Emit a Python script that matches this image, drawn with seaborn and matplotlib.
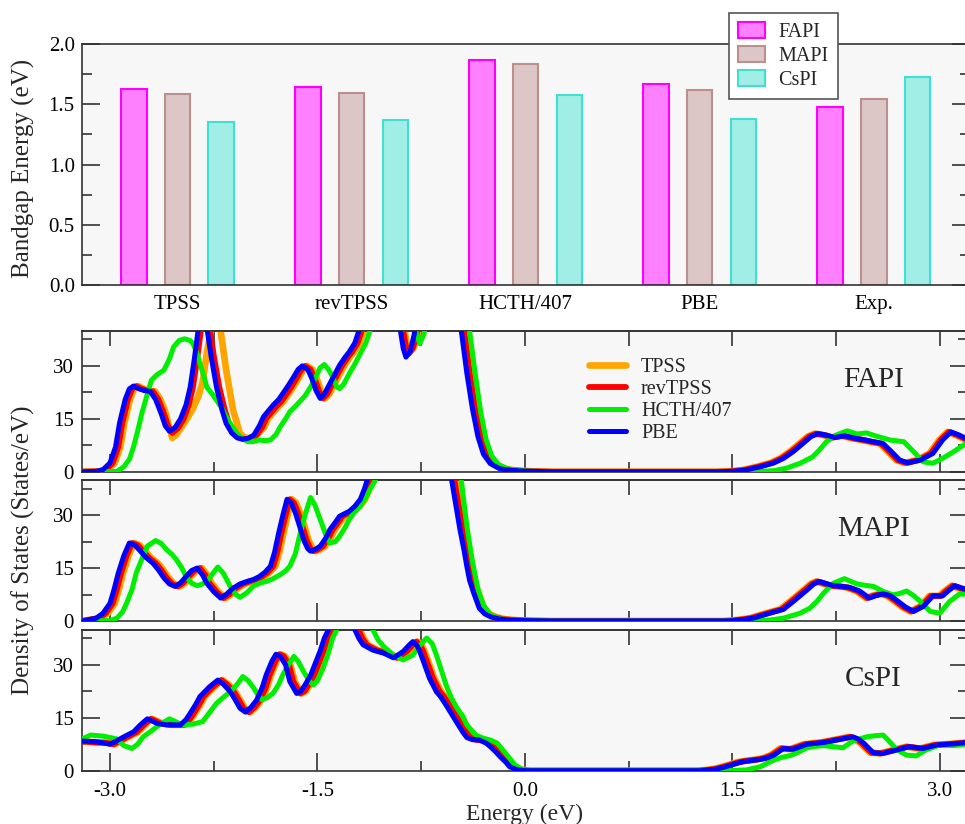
import matplotlib
matplotlib.use("Agg")
import matplotlib.pyplot as plt
import seaborn as sns
import pandas as pd
from matplotlib.ticker import MultipleLocator, FormatStrFormatter
from matplotlib.patches import Patch
from matplotlib.lines import Line2D

# bandgap bars
methods = ["TPSS", "revTPSS", "HCTH/407", "PBE", "Exp."]
materials = ["FAPI", "MAPI", "CsPI"]
gap_fapi = [1.63, 1.64, 1.865, 1.665, 1.475]
gap_mapi = [1.585, 1.596, 1.83, 1.62, 1.546]
gap_cspi = [1.355, 1.367, 1.58, 1.38, 1.726]

# DOS curves, (energy eV, states/eV)
fapi_tpss = [(-3.20, 0), (-3.065, 0.1), (-3.015, 0.6), (-2.965, 2.5), (-2.925, 7), (-2.895, 14), (-2.855, 20.5),
             (-2.825, 23.5), (-2.795, 24.3), (-2.755, 23.5), (-2.715, 23.0), (-2.675, 22.8), (-2.635, 20.5),
             (-2.60, 17), (-2.57, 12.5), (-2.55, 9.6), (-2.52, 10.5), (-2.48, 12.8), (-2.44, 15.2), (-2.40, 18),
             (-2.36, 21.5), (-2.33, 25.5), (-2.30, 33.5), (-2.27, 40), (-2.23, 46), (-2.20, 40), (-2.16, 28.8),
             (-2.11, 17.5), (-2.06, 10.8), (-2.02, 9.6), (-1.98, 9.6), (-1.94, 10.4), (-1.885, 12.6), (-1.855, 15.2),
             (-1.815, 17), (-1.785, 18.4), (-1.745, 20), (-1.715, 21.7), (-1.675, 24), (-1.635, 26.6), (-1.605, 28.7),
             (-1.575, 30), (-1.535, 29), (-1.505, 26.4), (-1.475, 23), (-1.445, 20.8), (-1.415, 22), (-1.375, 25),
             (-1.335, 28), (-1.305, 30.2), (-1.265, 32.5), (-1.235, 34), (-1.195, 36.5), (-1.165, 40), (-1.125, 46),
             (-1.015, 50), (-0.915, 48), (-0.87, 40), (-0.85, 35.5), (-0.83, 34), (-0.80, 35.5), (-0.77, 40),
             (-0.745, 44), (-0.665, 50), (-0.515, 50), (-0.445, 44), (-0.425, 40), (-0.385, 28), (-0.345, 18),
             (-0.305, 10), (-0.265, 5), (-0.215, 2.3), (-0.145, 0.8), (-0.065, 0.4), (0.035, 0.15), (0.20, 0),
             (1.375, 0), (1.475, 0.1), (1.575, 0.5), (1.675, 1.4), (1.775, 2.5), (1.845, 3.8), (1.915, 5.7),
             (1.985, 8), (2.045, 10), (2.095, 10.8), (2.155, 10.4), (2.215, 9.7), (2.285, 10.2), (2.375, 9.4),
             (2.435, 9), (2.495, 8.5), (2.565, 8), (2.625, 5.7), (2.685, 3.3), (2.745, 2.5), (2.835, 3.3),
             (2.925, 5.2), (2.995, 9), (3.055, 11.3), (3.115, 10.4), (3.20, 8.8)]
fapi_revtpss = [(-3.20, 0), (-3.08, 0.1), (-3.03, 0.6), (-2.98, 2.5), (-2.94, 7), (-2.91, 14), (-2.87, 20.5),
                (-2.84, 23.5), (-2.81, 24.3), (-2.77, 23.5), (-2.73, 23.0), (-2.69, 22.8), (-2.65, 20.5), (-2.61, 16.5),
                (-2.58, 13), (-2.55, 11), (-2.51, 12.3), (-2.47, 14.8), (-2.43, 19), (-2.40, 24), (-2.37, 32),
                (-2.34, 41), (-2.31, 46), (-2.28, 41), (-2.25, 33), (-2.21, 24), (-2.17, 17.5), (-2.14, 13.7),
                (-2.10, 11), (-2.06, 9.6), (-2.02, 9.2), (-1.98, 9.5), (-1.94, 10.4), (-1.90, 12.6), (-1.87, 15.2),
                (-1.83, 17), (-1.80, 18.4), (-1.76, 20), (-1.73, 21.7), (-1.69, 24), (-1.65, 26.6), (-1.62, 28.7),
                (-1.59, 30), (-1.55, 29), (-1.52, 26.4), (-1.49, 23), (-1.46, 20.8), (-1.43, 22), (-1.39, 25),
                (-1.35, 28), (-1.32, 30.2), (-1.28, 32.5), (-1.25, 34), (-1.21, 36.5), (-1.18, 40), (-1.14, 46),
                (-1.03, 50), (-0.93, 48), (-0.88, 40), (-0.86, 35.5), (-0.84, 33.5), (-0.81, 35), (-0.78, 39.5),
                (-0.76, 44), (-0.68, 50), (-0.53, 50), (-0.46, 44), (-0.44, 40), (-0.40, 28), (-0.36, 18),
                (-0.32, 10), (-0.28, 5), (-0.23, 2.3), (-0.16, 0.8), (-0.08, 0.4), (0.02, 0.15), (0.20, 0),
                (1.385, 0), (1.485, 0.1), (1.585, 0.5), (1.685, 1.4), (1.785, 2.5), (1.855, 3.8), (1.925, 5.7),
                (1.995, 8), (2.055, 10), (2.105, 10.8), (2.165, 10.4), (2.225, 9.7), (2.295, 10.2), (2.385, 9.4),
                (2.445, 9), (2.505, 8.5), (2.575, 8), (2.635, 5.7), (2.695, 3.3), (2.755, 2.5), (2.845, 3.3),
                (2.935, 5.2), (3.005, 9), (3.065, 11.3), (3.125, 10.4), (3.20, 9)]
fapi_hcth = [(-3.20, 0), (-2.95, 0.1), (-2.90, 1.4), (-2.86, 3.5), (-2.83, 7), (-2.80, 11.5), (-2.77, 16.5),
             (-2.73, 22), (-2.70, 26), (-2.66, 27.5), (-2.61, 28.8), (-2.57, 32), (-2.54, 35.4), (-2.50, 37.2),
             (-2.46, 37.7), (-2.42, 37.2), (-2.40, 36.3), (-2.37, 33.5), (-2.35, 30.7), (-2.32, 27), (-2.30, 24),
             (-2.26, 22), (-2.23, 20.3), (-2.19, 18), (-2.16, 15.6), (-2.12, 13), (-2.08, 10.8), (-2.04, 9.3),
             (-2.00, 8.5), (-1.96, 8.6), (-1.92, 9), (-1.88, 8.8), (-1.84, 9), (-1.80, 10.5), (-1.77, 12.7),
             (-1.73, 15), (-1.70, 17), (-1.66, 18.5), (-1.63, 19.8), (-1.59, 21.5), (-1.55, 24), (-1.51, 27),
             (-1.48, 29.5), (-1.45, 30.4), (-1.42, 29), (-1.39, 26.9), (-1.36, 24), (-1.34, 23.6), (-1.31, 24.8),
             (-1.27, 27.8), (-1.23, 30.5), (-1.19, 33.5), (-1.15, 36.5), (-1.12, 40), (-1.08, 46), (-0.95, 50),
             (-0.82, 45), (-0.79, 40), (-0.76, 36.3), (-0.73, 39), (-0.70, 45), (-0.55, 50), (-0.44, 46),
             (-0.40, 40), (-0.36, 28), (-0.32, 17), (-0.28, 9), (-0.24, 4.5), (-0.19, 2), (-0.12, 0.8),
             (0.00, 0.2), (0.20, 0), (1.60, 0), (1.68, 0.05), (1.80, 0.3), (1.89, 1), (1.99, 2.4), (2.08, 4.2),
             (2.13, 6.2), (2.18, 8.5), (2.25, 10.4), (2.33, 11.6), (2.40, 10.7), (2.47, 11), (2.54, 10.1),
             (2.64, 9), (2.74, 8.5), (2.81, 5.7), (2.88, 2.8), (2.95, 2.4), (3.02, 3.8), (3.10, 5.7), (3.20, 8.3)]
fapi_pbe = [(-3.20, 0), (-3.10, 0.1), (-3.05, 0.6), (-3.00, 2.5), (-2.96, 7), (-2.93, 14), (-2.89, 20.5),
            (-2.86, 23.5), (-2.83, 24.3), (-2.79, 23.5), (-2.75, 23.0), (-2.71, 22.8), (-2.67, 20.5), (-2.63, 16.5),
            (-2.60, 13), (-2.57, 11.5), (-2.53, 12.5), (-2.49, 15), (-2.45, 19), (-2.42, 24), (-2.39, 32),
            (-2.36, 41), (-2.33, 46), (-2.30, 41), (-2.27, 33), (-2.23, 24), (-2.19, 17.5), (-2.16, 13.7),
            (-2.12, 11), (-2.08, 9.6), (-2.04, 9.2), (-2.00, 9.5), (-1.96, 10.4), (-1.92, 13), (-1.89, 15.6),
            (-1.85, 17.5), (-1.82, 18.9), (-1.78, 20.5), (-1.75, 22.2), (-1.71, 24.5), (-1.67, 27), (-1.64, 29),
            (-1.61, 30), (-1.57, 29), (-1.54, 26.4), (-1.51, 23), (-1.48, 20.8), (-1.45, 22), (-1.41, 25),
            (-1.37, 28), (-1.34, 30.2), (-1.30, 32.5), (-1.27, 34), (-1.23, 36.5), (-1.20, 40), (-1.16, 46),
            (-1.05, 50), (-0.95, 48), (-0.90, 40), (-0.88, 35), (-0.86, 32.5), (-0.83, 34), (-0.80, 39),
            (-0.78, 44), (-0.70, 50), (-0.55, 50), (-0.48, 44), (-0.46, 40), (-0.42, 28), (-0.38, 18),
            (-0.34, 10), (-0.30, 5), (-0.25, 2.3), (-0.18, 0.8), (-0.10, 0.4), (0.00, 0.15), (0.20, 0),
            (1.40, 0), (1.50, 0.1), (1.60, 0.5), (1.70, 1.4), (1.80, 2.5), (1.87, 3.8), (1.94, 5.7), (2.01, 8),
            (2.07, 10), (2.12, 10.8), (2.18, 10.4), (2.24, 9.7), (2.31, 10.2), (2.40, 9.4), (2.46, 9),
            (2.52, 8.5), (2.59, 8), (2.65, 5.7), (2.71, 3.3), (2.77, 2.5), (2.86, 3.3), (2.95, 5.2), (3.02, 9),
            (3.08, 11.3), (3.14, 10.4), (3.20, 9.2)]

mapi_tpss = [(-3.20, 0), (-3.065, 0.8), (-3.015, 2.2), (-2.965, 5), (-2.935, 9), (-2.905, 13.6), (-2.865, 18.5),
             (-2.825, 22.1), (-2.785, 21.5), (-2.745, 19.8), (-2.705, 18), (-2.655, 16.4), (-2.615, 14.5),
             (-2.575, 12.2), (-2.535, 10.5), (-2.495, 9.8), (-2.455, 10.8), (-2.415, 12.6), (-2.375, 14.3),
             (-2.335, 15), (-2.295, 13), (-2.265, 10.7), (-2.215, 8.3), (-2.165, 6.5), (-2.125, 7.5), (-2.075, 9.3),
             (-2.025, 10.5), (-1.975, 11.2), (-1.925, 11.8), (-1.885, 12.6), (-1.845, 13.8), (-1.805, 15.5),
             (-1.775, 19.5), (-1.745, 25), (-1.715, 30), (-1.685, 34.5), (-1.655, 33.5), (-1.625, 30.7),
             (-1.595, 27), (-1.565, 23), (-1.535, 20.5), (-1.515, 19.8), (-1.485, 20.2), (-1.445, 21.2),
             (-1.405, 23.5), (-1.375, 25.9), (-1.335, 28), (-1.305, 29.7), (-1.265, 30.5), (-1.235, 31.1),
             (-1.195, 32.5), (-1.155, 34.5), (-1.125, 37.5), (-1.105, 40), (-1.065, 46), (-0.865, 50),
             (-0.565, 50), (-0.515, 44), (-0.495, 40), (-0.465, 33), (-0.435, 26), (-0.405, 20), (-0.385, 15.5),
             (-0.365, 11.5), (-0.335, 7.9), (-0.295, 3.6), (-0.255, 2), (-0.215, 1.2), (-0.145, 0.5),
             (-0.065, 0.25), (0.035, 0.1), (0.20, 0), (1.425, 0), (1.485, 0.1), (1.555, 0.4), (1.625, 0.8),
             (1.745, 2.2), (1.845, 3.3), (1.915, 5.5), (2.015, 8.8), (2.065, 10.5), (2.105, 11.2), (2.155, 10.6),
             (2.205, 10), (2.265, 9.8), (2.325, 9.5), (2.395, 8.5), (2.465, 6.5), (2.515, 7.2), (2.565, 7.7),
             (2.615, 7.2), (2.665, 5.8), (2.725, 4), (2.785, 2.7), (2.855, 4.1), (2.925, 7.1), (2.995, 7.1),
             (3.035, 8.5), (3.085, 10), (3.20, 8.4)]
mapi_revtpss = [(-3.20, 0), (-3.08, 0.8), (-3.03, 2.2), (-2.98, 5), (-2.95, 9), (-2.92, 13.6), (-2.88, 18.5),
                (-2.84, 22.1), (-2.80, 21.5), (-2.76, 19.8), (-2.72, 18), (-2.67, 16.4), (-2.63, 14.5), (-2.59, 12.2),
                (-2.55, 10.5), (-2.51, 9.8), (-2.47, 10.8), (-2.43, 12.6), (-2.39, 14.3), (-2.35, 15), (-2.31, 13),
                (-2.28, 10.7), (-2.23, 8.3), (-2.18, 6.5), (-2.14, 7.5), (-2.09, 9.3), (-2.04, 10.5), (-1.99, 11.2),
                (-1.94, 11.8), (-1.90, 12.6), (-1.86, 13.8), (-1.82, 15.5), (-1.79, 19.5), (-1.76, 25), (-1.73, 30),
                (-1.70, 34.5), (-1.67, 33.5), (-1.64, 30.7), (-1.61, 27), (-1.58, 23), (-1.55, 20.5), (-1.53, 19.8),
                (-1.50, 20.2), (-1.46, 21.2), (-1.42, 23.5), (-1.39, 25.9), (-1.35, 28), (-1.32, 29.7),
                (-1.28, 30.5), (-1.25, 31.1), (-1.21, 32.5), (-1.17, 34.5), (-1.14, 37.5), (-1.12, 40),
                (-1.08, 46), (-0.88, 50), (-0.58, 50), (-0.53, 44), (-0.51, 40), (-0.48, 33), (-0.45, 26),
                (-0.42, 20), (-0.40, 15.5), (-0.38, 11.5), (-0.35, 7.9), (-0.31, 3.6), (-0.27, 2), (-0.23, 1.2),
                (-0.16, 0.5), (-0.08, 0.25), (0.02, 0.1), (0.20, 0), (1.435, 0), (1.495, 0.1), (1.565, 0.4),
                (1.635, 0.8), (1.755, 2.2), (1.855, 3.3), (1.925, 5.5), (2.025, 8.8), (2.075, 10.5), (2.115, 11.2),
                (2.165, 10.6), (2.215, 10), (2.275, 9.8), (2.335, 9.5), (2.405, 8.5), (2.475, 6.5), (2.525, 7.2),
                (2.575, 7.7), (2.625, 7.2), (2.675, 5.8), (2.735, 4), (2.795, 2.7), (2.865, 4.1), (2.935, 7.1),
                (3.005, 7.1), (3.045, 8.5), (3.095, 10), (3.20, 8.6)]
mapi_hcth = [(-3.20, 0), (-3.00, 0.1), (-2.95, 0.8), (-2.91, 2.5), (-2.88, 5), (-2.84, 9), (-2.81, 13.6),
             (-2.77, 17.5), (-2.73, 21.2), (-2.67, 22.8), (-2.63, 22), (-2.59, 20.2), (-2.55, 18.8), (-2.52, 17.4),
             (-2.48, 15), (-2.45, 12.6), (-2.41, 10.7), (-2.37, 10), (-2.33, 10.5), (-2.29, 11.7), (-2.25, 13.8),
             (-2.22, 15.3), (-2.18, 13.5), (-2.13, 9.8), (-2.09, 7.5), (-2.06, 6.7), (-2.01, 8), (-1.96, 10),
             (-1.91, 10.8), (-1.87, 11.2), (-1.82, 12), (-1.77, 13.1), (-1.73, 14.2), (-1.70, 15.5), (-1.66, 19),
             (-1.63, 24), (-1.59, 30), (-1.55, 35), (-1.52, 33), (-1.48, 28.8), (-1.44, 24.5), (-1.41, 22.1),
             (-1.37, 22.5), (-1.34, 24), (-1.30, 26.5), (-1.27, 28.8), (-1.23, 31), (-1.19, 32.6), (-1.15, 35),
             (-1.12, 37.3), (-1.08, 40), (-1.04, 46), (-0.90, 50), (-0.55, 50), (-0.48, 44), (-0.46, 40),
             (-0.42, 27), (-0.38, 17), (-0.34, 9), (-0.30, 4.5), (-0.25, 1.8), (-0.18, 0.6), (-0.10, 0.25),
             (0.00, 0.1), (0.20, 0), (1.60, 0), (1.67, 0.05), (1.78, 0.3), (1.87, 0.8), (1.99, 2.2), (2.06, 3.6),
             (2.11, 5.5), (2.16, 7.9), (2.23, 10.7), (2.31, 12), (2.40, 10.5), (2.46, 10.1), (2.52, 9.8),
             (2.59, 8.4), (2.66, 7.4), (2.71, 7.8), (2.76, 8.5), (2.81, 7.2), (2.86, 5.5), (2.93, 2.7), (3.00, 2.2),
             (3.07, 5.5), (3.14, 7.6), (3.20, 7.6)]
mapi_pbe = [(-3.20, 0), (-3.10, 0.8), (-3.05, 2.2), (-3.00, 5), (-2.97, 9), (-2.94, 13.6), (-2.90, 18.5),
            (-2.86, 22.1), (-2.82, 21.5), (-2.78, 19.8), (-2.74, 18), (-2.69, 16.4), (-2.65, 14.5), (-2.61, 12.2),
            (-2.57, 10.5), (-2.53, 9.8), (-2.49, 10.8), (-2.45, 12.6), (-2.41, 14.3), (-2.37, 15), (-2.33, 13),
            (-2.30, 10.7), (-2.25, 8.3), (-2.20, 6.5), (-2.16, 7.5), (-2.11, 9.3), (-2.06, 10.5), (-2.01, 11.2),
            (-1.96, 11.8), (-1.92, 12.6), (-1.88, 13.8), (-1.84, 15.5), (-1.81, 19.5), (-1.78, 25), (-1.75, 30),
            (-1.72, 34.5), (-1.69, 33.5), (-1.66, 30.7), (-1.63, 27), (-1.60, 23), (-1.57, 20.5), (-1.55, 19.8),
            (-1.52, 20.2), (-1.48, 21.2), (-1.44, 23.5), (-1.41, 25.9), (-1.37, 28), (-1.34, 29.7), (-1.30, 30.5),
            (-1.27, 31.1), (-1.23, 32.5), (-1.19, 34.5), (-1.16, 37.5), (-1.14, 40), (-1.10, 46), (-0.90, 50),
            (-0.60, 50), (-0.55, 44), (-0.53, 40), (-0.50, 33), (-0.47, 26), (-0.44, 20), (-0.42, 15.5),
            (-0.40, 11.5), (-0.37, 7.9), (-0.33, 3.6), (-0.29, 2), (-0.25, 1.2), (-0.18, 0.5), (-0.10, 0.25),
            (0.00, 0.1), (0.20, 0), (1.45, 0), (1.51, 0.1), (1.58, 0.4), (1.65, 0.8), (1.77, 2.2), (1.87, 3.3),
            (1.94, 5.5), (2.04, 8.8), (2.09, 10.5), (2.13, 11.2), (2.18, 10.6), (2.23, 10), (2.29, 9.8),
            (2.35, 9.5), (2.42, 8.5), (2.49, 6.5), (2.54, 7.2), (2.59, 7.7), (2.64, 7.2), (2.69, 5.8), (2.75, 4),
            (2.81, 2.7), (2.88, 4.1), (2.95, 7.1), (3.02, 7.1), (3.06, 8.5), (3.11, 10), (3.20, 8.8)]

cspi_tpss = [(-3.20, 8.3), (-3.09, 8.0), (-3.015, 7.9), (-2.965, 7.5), (-2.915, 8.5), (-2.865, 9.6), (-2.795, 11),
             (-2.745, 13), (-2.695, 14.7), (-2.655, 14), (-2.625, 13.4), (-2.555, 13), (-2.455, 13), (-2.415, 14.5),
             (-2.385, 16.3), (-2.345, 18.8), (-2.315, 21), (-2.245, 23.8), (-2.185, 25.7), (-2.145, 24.5),
             (-2.095, 22.4), (-2.055, 19.8), (-2.025, 17.7), (-1.985, 16.6), (-1.945, 18), (-1.905, 20),
             (-1.865, 23.5), (-1.835, 27.2), (-1.795, 31), (-1.765, 33), (-1.735, 32.5), (-1.695, 30),
             (-1.665, 25.3), (-1.615, 21.9), (-1.585, 22.5), (-1.555, 24.3), (-1.515, 27), (-1.485, 30),
             (-1.445, 34), (-1.415, 37.6), (-1.385, 40), (-1.345, 46), (-1.265, 48), (-1.215, 44), (-1.195, 40),
             (-1.165, 37.5), (-1.135, 35.7), (-1.065, 34.2), (-0.985, 33.3), (-0.915, 32), (-0.845, 33.8),
             (-0.805, 35.5), (-0.775, 36.6), (-0.745, 35.5), (-0.725, 33.8), (-0.685, 29.5), (-0.655, 26.2),
             (-0.605, 22.4), (-0.575, 21), (-0.535, 18.6), (-0.505, 16.7), (-0.455, 13.5), (-0.415, 11),
             (-0.385, 9.4), (-0.345, 8.8), (-0.295, 8.7), (-0.245, 7.8), (-0.215, 6.8), (-0.175, 5.3), (-0.145, 4),
             (-0.105, 2.5), (-0.075, 1.1), (-0.025, 0.3), (0.035, 0), (1.245, 0), (1.305, 0.2), (1.365, 0.5),
             (1.425, 1.1), (1.485, 1.8), (1.535, 2.4), (1.575, 2.7), (1.675, 3.2), (1.725, 3.6), (1.775, 4.4),
             (1.845, 6.3), (1.915, 6.1), (2.015, 7.5), (2.135, 8), (2.255, 8.9), (2.345, 9.6), (2.385, 9),
             (2.425, 7.8), (2.465, 6.2), (2.495, 5.1), (2.565, 4.9), (2.665, 5.9), (2.755, 6.8), (2.855, 6.3),
             (2.955, 7.3), (3.075, 7.6), (3.20, 8)]
cspi_revtpss = [(-3.20, 8.3), (-3.10, 8.0), (-3.025, 7.9), (-2.975, 7.5), (-2.925, 8.5), (-2.875, 9.6),
                (-2.805, 11), (-2.755, 13), (-2.705, 14.7), (-2.665, 14), (-2.635, 13.4), (-2.565, 13), (-2.465, 13),
                (-2.425, 14.5), (-2.395, 16.3), (-2.355, 18.8), (-2.325, 21), (-2.255, 23.8), (-2.195, 25.7),
                (-2.155, 24.5), (-2.105, 22.4), (-2.065, 19.8), (-2.035, 17.7), (-1.995, 16.6), (-1.955, 18),
                (-1.915, 20), (-1.875, 23.5), (-1.845, 27.2), (-1.805, 31), (-1.775, 33), (-1.745, 32.5),
                (-1.705, 30), (-1.675, 25.3), (-1.625, 21.9), (-1.595, 22.5), (-1.565, 24.3), (-1.525, 27),
                (-1.495, 30), (-1.455, 34), (-1.425, 37.6), (-1.395, 40), (-1.355, 46), (-1.275, 48), (-1.225, 44),
                (-1.205, 40), (-1.175, 37.5), (-1.145, 35.7), (-1.075, 34.2), (-0.995, 33.3), (-0.925, 32),
                (-0.855, 33.8), (-0.815, 35.5), (-0.785, 36.6), (-0.755, 35.5), (-0.735, 33.8), (-0.695, 29.5),
                (-0.665, 26.2), (-0.615, 22.4), (-0.585, 21), (-0.545, 18.6), (-0.515, 16.7), (-0.465, 13.5),
                (-0.425, 11), (-0.395, 9.4), (-0.355, 8.8), (-0.305, 8.7), (-0.255, 7.8), (-0.225, 6.8),
                (-0.185, 5.3), (-0.155, 4), (-0.115, 2.5), (-0.085, 1.1), (-0.035, 0.3), (0.025, 0), (1.255, 0),
                (1.315, 0.2), (1.375, 0.5), (1.435, 1.1), (1.495, 1.8), (1.545, 2.4), (1.585, 2.7), (1.685, 3.2),
                (1.735, 3.6), (1.785, 4.4), (1.855, 6.3), (1.925, 6.1), (2.025, 7.5), (2.145, 8), (2.265, 8.9),
                (2.355, 9.6), (2.395, 9), (2.435, 7.8), (2.475, 6.2), (2.505, 5.1), (2.575, 4.9), (2.675, 5.9),
                (2.765, 6.8), (2.865, 6.3), (2.965, 7.3), (3.085, 7.6), (3.20, 8)]
cspi_hcth = [(-3.20, 9), (-3.14, 10.1), (-3.05, 9.8), (-3.00, 9.4), (-2.95, 9), (-2.90, 7.1), (-2.84, 6.3),
             (-2.80, 7.5), (-2.76, 9.6), (-2.71, 11), (-2.66, 12.5), (-2.61, 13.8), (-2.57, 14.7), (-2.53, 14),
             (-2.48, 13), (-2.40, 13.2), (-2.33, 13.9), (-2.28, 16.5), (-2.23, 19.1), (-2.18, 20.8), (-2.13, 22.4),
             (-2.08, 24.5), (-2.04, 26.7), (-2.00, 25.5), (-1.96, 23.4), (-1.93, 21.5), (-1.90, 20.1), (-1.86, 20.8),
             (-1.82, 22), (-1.78, 24.5), (-1.75, 27.2), (-1.71, 30), (-1.67, 32.4), (-1.64, 31), (-1.60, 28.1),
             (-1.56, 25.5), (-1.53, 24.3), (-1.50, 25.5), (-1.46, 29), (-1.42, 33.5), (-1.39, 37.6), (-1.36, 40),
             (-1.32, 46), (-1.20, 48), (-1.13, 44), (-1.10, 40), (-1.06, 37), (-1.02, 35.2), (-0.95, 32.8),
             (-0.88, 31.4), (-0.81, 32.8), (-0.76, 35.5), (-0.71, 37.6), (-0.67, 36), (-0.64, 32.8), (-0.60, 28),
             (-0.57, 24.3), (-0.53, 20.5), (-0.49, 17.7), (-0.45, 15.5), (-0.42, 13), (-0.38, 11.2), (-0.35, 10),
             (-0.30, 9.2), (-0.25, 8.7), (-0.20, 7.8), (-0.16, 5.9), (-0.11, 3.5), (-0.07, 1.6), (-0.03, 0.6),
             (0.00, 0.2), (0.05, 0), (1.46, 0), (1.60, 0.2), (1.70, 1.1), (1.80, 3), (1.86, 3.8), (1.92, 4.3),
             (1.98, 5.3), (2.04, 6.5), (2.10, 6.9), (2.16, 7.1), (2.23, 6.8), (2.30, 6.5), (2.37, 8.4), (2.47, 9.6),
             (2.53, 9.9), (2.59, 10.1), (2.63, 8.5), (2.69, 5.9), (2.76, 4.4), (2.83, 4.2), (2.90, 5.9), (3.00, 7.3),
             (3.10, 7.1), (3.20, 7.5)]
cspi_pbe = [(-3.20, 8.4), (-3.10, 8.2), (-3.05, 7.9), (-3.00, 7.5), (-2.95, 8.5), (-2.90, 9.6), (-2.83, 11),
            (-2.78, 13), (-2.73, 14.7), (-2.69, 14), (-2.66, 13.4), (-2.59, 13), (-2.49, 13), (-2.45, 14.5),
            (-2.42, 16.3), (-2.38, 18.8), (-2.35, 21), (-2.28, 23.8), (-2.22, 25.7), (-2.18, 24.5), (-2.13, 22.4),
            (-2.09, 19.8), (-2.06, 17.7), (-2.02, 16.6), (-1.98, 18), (-1.94, 20), (-1.90, 23.5), (-1.87, 27.2),
            (-1.83, 31), (-1.80, 33), (-1.77, 32.5), (-1.73, 30), (-1.70, 25.3), (-1.65, 21.9), (-1.62, 22.5),
            (-1.59, 24.3), (-1.55, 27), (-1.52, 30), (-1.48, 34), (-1.45, 37.6), (-1.42, 40), (-1.38, 46),
            (-1.30, 48), (-1.25, 44), (-1.23, 40), (-1.20, 37.5), (-1.17, 35.7), (-1.10, 34.2), (-1.02, 33.3),
            (-0.95, 32), (-0.88, 33.8), (-0.84, 35.5), (-0.81, 36.6), (-0.78, 35.5), (-0.76, 33.8), (-0.72, 29.5),
            (-0.69, 26.2), (-0.64, 22.4), (-0.61, 21), (-0.57, 18.6), (-0.54, 16.7), (-0.49, 13.5), (-0.45, 11),
            (-0.42, 9.4), (-0.38, 8.8), (-0.33, 8.7), (-0.28, 7.8), (-0.25, 6.8), (-0.21, 5.3), (-0.18, 4),
            (-0.14, 2.5), (-0.11, 1.1), (-0.06, 0.3), (0.00, 0), (1.27, 0), (1.33, 0.2), (1.39, 0.5), (1.45, 1.1),
            (1.51, 1.8), (1.56, 2.4), (1.60, 2.7), (1.70, 3.2), (1.75, 3.6), (1.80, 4.4), (1.87, 6.3), (1.94, 6.1),
            (2.04, 7.5), (2.16, 8), (2.28, 8.9), (2.37, 9.6), (2.41, 9), (2.45, 7.8), (2.49, 6.2), (2.52, 5.1),
            (2.59, 4.9), (2.69, 5.9), (2.78, 6.8), (2.88, 6.3), (2.98, 7.3), (3.10, 7.6), (3.20, 8)]

functionals = ["TPSS", "revTPSS", "HCTH/407", "PBE"]
line_colors = ["#ffa500", "#ff0000", "#00ee00", "#0000ff"]
line_widths = [4.8, 4.2, 3.6, 3.6]
panels = [("FAPI", [fapi_tpss, fapi_revtpss, fapi_hcth, fapi_pbe]),
          ("MAPI", [mapi_tpss, mapi_revtpss, mapi_hcth, mapi_pbe]),
          ("CsPI", [cspi_tpss, cspi_revtpss, cspi_hcth, cspi_pbe])]

bar_fill = ["#ff80ff", "#dcc6c6", "#a0eee6"]
bar_edge = ["#ff00ff", "#bc8f8f", "#40e0d0"]

sns.set_style("ticks")
plt.rcParams["font.family"] = ["Liberation Serif", "DejaVu Serif"]
plt.rcParams["axes.unicode_minus"] = False
plt.rcParams["axes.linewidth"] = 1.2
plt.rcParams["axes.edgecolor"] = "#333333"
plt.rcParams["xtick.color"] = "#333333"
plt.rcParams["ytick.color"] = "#333333"
plt.rcParams["xtick.labelcolor"] = "black"
plt.rcParams["ytick.labelcolor"] = "black"
bg = "#f7f7f7"

fig = plt.figure(figsize=(9.65, 8.24), dpi=100)

# --- bandgap bars
ax0 = fig.add_axes([0.0847, 0.6541, 0.9201, 0.2925])
bars = pd.DataFrame({
    "method": methods * 3,
    "material": [m for m in materials for _ in methods],
    "gap": gap_fapi + gap_mapi + gap_cspi,
})
sns.barplot(data=bars, x="method", y="gap", hue="material", order=methods, hue_order=materials,
            palette=bar_fill, saturation=1, width=0.753, gap=0.418, legend=False, ax=ax0)
for cont, ec in zip(ax0.containers, bar_edge):
    for b in cont:
        b.set_edgecolor(ec)
        b.set_linewidth(1.5)
ax0.set_facecolor(bg)
ax0.set_xlim(-0.55, 4.55)
ax0.set_ylim(0, 2.0)
ax0.set_xlabel("")
ax0.set_ylabel("")
ax0.yaxis.set_major_locator(MultipleLocator(0.5))
ax0.yaxis.set_minor_locator(MultipleLocator(0.25))
ax0.yaxis.set_major_formatter(FormatStrFormatter("%.1f"))
ax0.tick_params(axis="y", which="both", direction="in", left=True, right=True, width=1.2, labelsize=15, pad=5)
ax0.tick_params(axis="y", which="major", length=13)
ax0.tick_params(axis="y", which="minor", length=7)
ax0.tick_params(axis="x", length=0, labelsize=15, pad=7)
handles = [Patch(facecolor=f, edgecolor=e, linewidth=1.5, label=m) for f, e, m in zip(bar_fill, bar_edge, materials)]
leg0 = ax0.legend(handles=handles, loc="upper left", bbox_to_anchor=(0.729, 1.129), borderaxespad=0,
                  fontsize=14.5, frameon=True, fancybox=False, edgecolor="#555555", framealpha=1,
                  borderpad=0.45, handlelength=1.35, handleheight=0.85, handletextpad=0.65, labelspacing=0.2)
leg0.get_frame().set_linewidth(1.2)
leg0.set_zorder(10)
fig.text(23 / 965, 1 - 168 / 824, "Bandgap Energy (eV)", rotation=90, ha="center", va="center", fontsize=18)

# --- DOS panels
bottoms = [0.4275, 0.2464, 0.0647]
dos_axes = []
for (name, curves), bot in zip(panels, bottoms):
    ax = fig.add_axes([0.0853, bot, 0.9173, 0.1712])
    ax.set_facecolor(bg)
    for k, (pts, col, lw) in enumerate(zip(curves, line_colors, line_widths)):
        sns.lineplot(x=[p[0] for p in pts], y=[p[1] for p in pts], color=col, linewidth=lw,
                     estimator=None, sort=False, ax=ax, zorder=2 + k, solid_joinstyle="round")
    ax.set_xlim(-3.2, 3.2)
    ax.set_ylim(0, 40)
    ax.set_xlabel("")
    ax.set_ylabel("")
    ax.xaxis.set_major_locator(MultipleLocator(1.5))
    ax.xaxis.set_minor_locator(MultipleLocator(0.75))
    ax.xaxis.set_major_formatter(FormatStrFormatter("%.1f"))
    ax.yaxis.set_major_locator(MultipleLocator(15))
    ax.yaxis.set_minor_locator(MultipleLocator(7.5))
    ax.tick_params(which="both", direction="in", left=True, right=True, bottom=True, top=False,
                   width=1.2, labelsize=15)
    ax.tick_params(which="major", length=13)
    ax.tick_params(which="minor", length=7)
    ax.tick_params(axis="y", pad=6)
    ax.tick_params(axis="x", pad=8)
    sec = ax.secondary_xaxis("top")
    sec.xaxis.set_major_locator(MultipleLocator(0.75))
    sec.tick_params(direction="in", length=11, width=1.2, labeltop=False)
    sec.spines["top"].set_linewidth(1.2)
    ax.text(2.52, 26, name, fontsize=21, ha="center", va="center")
    dos_axes.append(ax)

for ax in dos_axes[:-1]:
    ax.tick_params(axis="x", labelbottom=False)

line_handles = [Line2D([0], [0], color=c, linewidth=w) for c, w in zip(line_colors, line_widths)]
dos_axes[0].legend(line_handles, functionals, loc="upper left", bbox_to_anchor=(0.572, 0.81), frameon=False,
                   fontsize=14.5, handlelength=1.85, handletextpad=0.75, labelspacing=0.15,
                   borderaxespad=0, borderpad=0)

fig.text(23 / 965, 1 - 550 / 824, "Density of States (States/eV)", rotation=90, ha="center", va="center",
         fontsize=18)
fig.text(525 / 965, 1 - 820 / 824, "Energy (eV)", ha="center", va="baseline", fontsize=17)

fig.savefig("out.png", dpi=100, facecolor="white")
